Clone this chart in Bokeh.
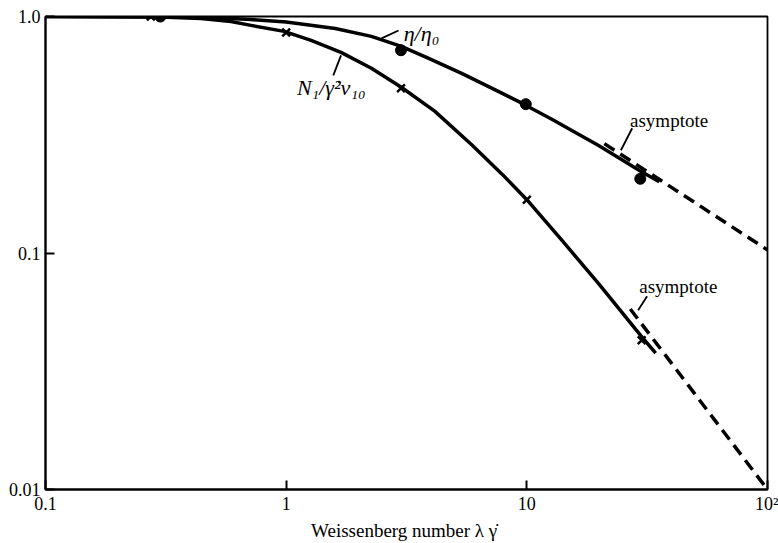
from bokeh.plotting import figure
from bokeh.models import FixedTicker, Range1d, ColumnDataSource
from bokeh.core.properties import value
from bokeh.embed import file_html
from bokeh.resources import INLINE

# ---- data ----
eta_curve_x = [0.1, 0.3, 0.44, 0.59, 0.714, 1.0, 1.60, 2.26, 3.01, 3.91, 5.36, 7.87, 9.53, 12.7, 19.95, 29.6, 35.5]
eta_curve_y = [1.0, 0.995, 0.99, 0.98, 0.971, 0.948, 0.890, 0.824, 0.748, 0.665, 0.575, 0.474, 0.430, 0.368, 0.284, 0.222, 0.200]

n1_curve_x = [0.1, 0.3, 0.443, 0.590, 0.714, 0.981, 1.27, 1.69, 2.26, 3.01, 4.14, 5.90, 7.87, 10.0, 14.0, 19.95, 30.1, 34.3]
n1_curve_y = [1.0, 0.995, 0.981, 0.953, 0.917, 0.865, 0.792, 0.705, 0.604, 0.502, 0.398, 0.287, 0.216, 0.168, 0.113, 0.0739, 0.0441, 0.0377]

eta_pts_x = [0.30, 3.0, 9.9, 29.6]
eta_pts_y = [1.0, 0.72, 0.426, 0.206]

n1_pts_x = [0.274, 1.0, 3.0, 10.0, 30.0]
n1_pts_y = [1.0, 0.856, 0.497, 0.168, 0.0428]

eta_asym_x = [21.0, 100.0]
eta_asym_y = [0.29, 0.103]

n1_asym_x = [26.9, 100.0]
n1_asym_y = [0.058, 0.01]

x_ticks = [0.1, 1, 10, 100]
x_tick_labels = ["0.1", "1", "10", "10²"]
y_ticks = [0.01, 0.1, 1]
y_tick_labels = ["0.01", "0.1", "1.0"]

FONT = "Liberation Serif"

p = figure(width=778, height=543, x_axis_type="log", y_axis_type="log",
           x_range=Range1d(0.1, 100), y_range=Range1d(0.01, 1.0),
           output_backend="svg", toolbar_location=None,
           min_border_left=45, min_border_right=11, min_border_top=16, min_border_bottom=52,
           background_fill_color="white", border_fill_color="white")
p.grid.visible = False
p.outline_line_color = "black"
p.outline_line_width = 1.8

for ax in (p.xaxis[0], p.yaxis[0]):
    ax.axis_line_width = 2
    ax.axis_line_color = "black"
    ax.major_tick_in = 9
    ax.major_tick_out = 0
    ax.major_tick_line_width = 2
    ax.minor_tick_line_color = None
    ax.major_label_text_font = FONT
    ax.major_label_text_font_size = "18px"
    ax.major_label_text_color = "black"

p.xaxis.ticker = FixedTicker(ticks=x_ticks)
p.xaxis.major_label_overrides = {t: l for t, l in zip(x_ticks, x_tick_labels)}
p.yaxis.ticker = FixedTicker(ticks=y_ticks)
p.yaxis.major_label_overrides = {t: l for t, l in zip(y_ticks, y_tick_labels)}
p.xaxis.major_label_standoff = 4
p.yaxis.major_label_standoff = 5
p.xaxis.axis_label = "Weissenberg number  λ γ̇"
p.xaxis.axis_label_text_font = FONT
p.xaxis.axis_label_text_font_size = "19px"
p.xaxis.axis_label_text_font_style = "normal"
p.xaxis.axis_label_text_color = "black"
p.xaxis.axis_label_standoff = 3

# curves
p.line(eta_curve_x, eta_curve_y, line_color="black", line_width=3.5, line_join="round")
p.line(n1_curve_x, n1_curve_y, line_color="black", line_width=3.5, line_join="round")
p.line(eta_asym_x, eta_asym_y, line_color="black", line_width=3.5, line_dash="12 7")
p.line(n1_asym_x, n1_asym_y, line_color="black", line_width=3.5, line_dash="12 7")

# points
p.scatter(eta_pts_x, eta_pts_y, marker="circle", size=11, fill_color="black", line_color="black")
p.scatter(n1_pts_x, n1_pts_y, marker="x", size=11, line_color="black", line_width=2.5)

# labels
lab = ColumnDataSource(dict(
    x=[3.65, 1.54],
    y=[0.848, 0.502],
    t=["η/η₀", "N₁/γ̇²ν₁₀"],
))
p.text(x="x", y="y", text="t", source=lab, text_font=value(FONT), text_font_style="italic",
       text_font_size="22px", text_align="center", text_baseline="middle", text_color="black")

alab = ColumnDataSource(dict(x=[39.0, 42.6], y=[0.365, 0.0723], t=["asymptote", "asymptote"]))
p.text(x="x", y="y", text="t", source=alab, text_font=value(FONT),
       text_font_size="19px", text_align="center", text_baseline="middle", text_color="black")

# leader lines
p.segment(x0=[2.93, 1.69, 27.4, 31.6], y0=[0.873, 0.685, 0.337, 0.0656],
          x1=[2.49, 1.57, 24.6, 29.0], y1=[0.808, 0.564, 0.272, 0.0573],
          line_color="black", line_width=1.8)

open("out.html", "w").write(file_html(p, INLINE))
